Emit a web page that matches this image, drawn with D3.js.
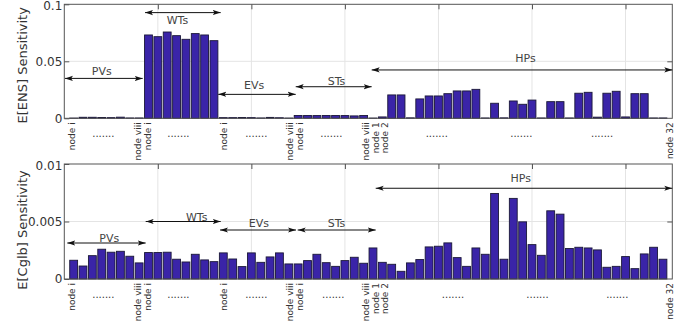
<!DOCTYPE html>
<html>
<head>
<meta charset="utf-8">
<script src="https://cdn.jsdelivr.net/npm/d3@7"></script>
<style>
  body { margin: 0; background: #fff; }
  svg { display: block; font-family: 'DejaVu Sans', sans-serif; }
</style>
</head>
<body>
<svg id="chart" width="694" height="329"></svg>
<script>
// --- data -------------------------------------------------------------
// 64 nodes: 8 PVs, 8 WTs, 8 EVs, 8 STs, 32 HPs
const ensPV = [0.0002, 0.0009, 0.0009, 0.0007, 0.0006, 0.0010, 0.0003, 0.0003];
const ensWT = [0.0731, 0.0716, 0.0757, 0.0725, 0.0693, 0.0743, 0.0731, 0.0681];
const ensEV = [0.0006, 0.0006, 0.0007, 0.0006, 0.0003, 0.0008, 0.0005, 0.0002];
const ensST = [0.0025, 0.0025, 0.0024, 0.0025, 0.0025, 0.0024, 0.0021, 0.0025];
const ensHP = [0.0002, 0.0012, 0.0205, 0.0205, 0.0004, 0.0170, 0.0196, 0.0196,
               0.0216, 0.0240, 0.0240, 0.0254, 0.0003, 0.0132, 0.0004, 0.0152,
               0.0123, 0.0160, 0.0003, 0.0146, 0.0146, 0.0003, 0.0220, 0.0228,
               0.0010, 0.0220, 0.0237, 0.0012, 0.0216, 0.0216, 0.0003, 0.0003];

const cglbPV = [0.00163, 0.00113, 0.00203, 0.00259, 0.00233, 0.00241, 0.00198, 0.00140];
const cglbWT = [0.00230, 0.00230, 0.00233, 0.00172, 0.00148, 0.00215, 0.00166, 0.00151];
const cglbEV = [0.00227, 0.00174, 0.00108, 0.00227, 0.00145, 0.00192, 0.00227, 0.00131];
const cglbST = [0.00131, 0.00160, 0.00215, 0.00142, 0.00110, 0.00160, 0.00189, 0.00137];
const cglbHP = [0.00270, 0.00145, 0.00128, 0.00067, 0.00140, 0.00169, 0.00279, 0.00285,
                0.00314, 0.00186, 0.00110, 0.00270, 0.00215, 0.00744, 0.00172, 0.00701,
                0.00497, 0.00299, 0.00206, 0.00593, 0.00564, 0.00265, 0.00276, 0.00270,
                0.00253, 0.00102, 0.00110, 0.00195, 0.00090, 0.00218, 0.00276, 0.00172];

const nodeTicks = [1, 8, 9, 17, 24, 25, 32, 33, 34, 64];
const nodeTickLabels = ['node i', 'node viii', 'node i', 'node i', 'node viii',
                        'node i', 'node viii', 'node 1', 'node 2', 'node 32'];
const ensDots = [4.4, 12.3, 20.5, 28.4, 39.5, 48.4, 56.9];
const cglbDots = [4.4, 12.3, 20.5, 28.6, 41.2, 50.1, 58.5];

// group arrows: [label, from, to, arrow y, label x, label y] (data units)
const ensArrows = [
  ['PVs', 0.07, 8.38, 0.035, 4.0, 0.0409],
  ['WTs', 8.63, 16.72, 0.0927, 12.1, 0.0856],
  ['EVs', 16.46, 24.74, 0.021, 20.3, 0.0286],
  ['STs', 24.74, 32.86, 0.0277, 29.1, 0.0327],
  ['HPs', 32.86, 65, 0.0424, 49.3, 0.0523]
];
const cglbArrows = [
  ['PVs', 0.32, 8.7, 0.00313, 4.8, 0.0035],
  ['WTs', 8.7, 16.72, 0.005, 14.15, 0.00535],
  ['EVs', 16.65, 24.77, 0.00426, 20.8, 0.0048],
  ['STs', 24.95, 33.29, 0.00426, 29.1, 0.00484],
  ['HPs', 33.29, 65, 0.00789, 48.8, 0.00871]
];

// --- layout -------------------------------------------------------------
const left = 64.3, right = 672.3;
const panels = [
  { values: [...ensPV, ...ensWT, ...ensEV, ...ensST, ...ensHP], yMax: 0.1, yTicks: [0, 0.05, 0.1],
    top: 4.3, bottom: 118.3, title: 'E[ENS] Sensitivity', titleShift: 4, arrows: ensArrows, dots: ensDots },
  { values: [...cglbPV, ...cglbWT, ...cglbEV, ...cglbST, ...cglbHP], yMax: 0.01, yTicks: [0, 0.005, 0.01],
    top: 164, bottom: 279, title: 'E[Cglb] Sensitivity', titleShift: 8.5, arrows: cglbArrows, dots: cglbDots }
];

const svg = d3.select('#chart');

const defs = svg.append('defs');
defs.append('marker')
  .attr('id', 'head')
  .attr('markerUnits', 'userSpaceOnUse')
  .attr('viewBox', '0 -3 8 6')
  .attr('refX', 8).attr('refY', 0)
  .attr('markerWidth', 8).attr('markerHeight', 6)
  .attr('orient', 'auto-start-reverse')
  .append('path')
  .attr('d', 'M0,-2.6L8,0L0,2.6L1.8,0Z')
  .attr('fill', '#111');

const x = d3.scaleLinear().domain([0, 65]).range([left, right]);
// tick labels sit on a slightly different scale (separate label axis)
const xl = d3.scaleLinear().domain([0.5, 64.5]).range([left + 2, right + 2]);

panels.forEach(p => {
  const y = d3.scaleLinear().domain([0, p.yMax]).range([p.bottom, p.top]);
  const g = svg.append('g');

  // grid
  g.append('g').selectAll('line.vg')
    .data(d3.range(10, 65, 10))
    .enter().append('line')
    .attr('x1', d => x(d)).attr('x2', d => x(d))
    .attr('y1', p.top).attr('y2', p.bottom)
    .attr('stroke', '#e4e4e4').attr('stroke-width', 1);
  g.append('g').selectAll('line.hg')
    .data(p.yTicks.slice(1, -1))
    .enter().append('line')
    .attr('x1', left).attr('x2', right)
    .attr('y1', d => y(d)).attr('y2', d => y(d))
    .attr('stroke', '#e4e4e4').attr('stroke-width', 1);

  // bars
  const bw = (x(1) - x(0)) * 0.84;
  g.append('g').selectAll('rect')
    .data(p.values)
    .enter().append('rect')
    .attr('x', (d, i) => x(i + 1) - bw / 2)
    .attr('y', d => y(d))
    .attr('width', bw)
    .attr('height', d => p.bottom - y(d))
    .attr('fill', '#3a24a8')
    .attr('stroke', '#1b1838')
    .attr('stroke-width', 0.9);

  // axes (ticks inward)
  const yAxis = g.append('g')
    .attr('transform', `translate(${left},0)`)
    .call(d3.axisLeft(y).tickValues(p.yTicks).tickFormat(d => String(d))
      .tickSizeInner(-5).tickSizeOuter(0).tickPadding(2));
  yAxis.select('.domain').remove();
  yAxis.selectAll('line').attr('stroke', '#555');
  yAxis.selectAll('text')
    .attr('fill', '#333')
    .attr('dy', d => d === p.yMax ? '0.45em' : '0.32em')
    .style('font-family', "'DejaVu Sans', sans-serif")
    .style('font-size', '12px');

  const rAxis = g.append('g')
    .attr('transform', `translate(${right},0)`)
    .call(d3.axisRight(y).tickValues(p.yTicks.slice(1, -1)).tickFormat('')
      .tickSizeInner(-5).tickSizeOuter(0));
  rAxis.select('.domain').remove();
  rAxis.selectAll('line').attr('stroke', '#555');

  const tAxis = g.append('g')
    .attr('transform', `translate(0,${p.top})`)
    .call(d3.axisTop(x).tickValues(d3.range(10, 65, 10)).tickFormat('')
      .tickSizeInner(-5).tickSizeOuter(0));
  tAxis.select('.domain').remove();
  tAxis.selectAll('line').attr('stroke', '#555');

  // node labels on the bottom
  const bAxis = g.append('g')
    .attr('transform', `translate(0,${p.bottom})`)
    .call(d3.axisBottom(xl).tickValues(nodeTicks)
      .tickFormat((d, i) => nodeTickLabels[i]).tickSize(0).tickPadding(0));
  bAxis.select('.domain').remove();
  bAxis.selectAll('text')
    .attr('transform', 'rotate(-90)')
    .attr('x', -4).attr('y', 0).attr('dy', '0.35em')
    .attr('text-anchor', 'end')
    .attr('fill', '#333')
    .style('font-family', "'DejaVu Sans', sans-serif")
    .style('font-size', '9px');

  g.append('g').selectAll('text.dots')
    .data(p.dots)
    .enter().append('text')
    .attr('x', d => xl(d))
    .attr('y', p.bottom + 19)
    .attr('text-anchor', 'middle')
    .attr('fill', '#333')
    .style('font-size', '10px')
    .text('.......');

  // frame
  g.append('rect')
    .attr('x', left).attr('y', p.top)
    .attr('width', right - left).attr('height', p.bottom - p.top)
    .attr('fill', 'none').attr('stroke', '#555').attr('stroke-width', 1);

  // group arrows
  p.arrows.forEach(a => {
    g.append('line')
      .attr('x1', x(a[1])).attr('x2', x(a[2]))
      .attr('y1', y(a[3])).attr('y2', y(a[3]))
      .attr('stroke', '#111').attr('stroke-width', 1)
      .attr('marker-start', 'url(#head)')
      .attr('marker-end', 'url(#head)');
    g.append('text')
      .attr('x', x(a[4])).attr('y', y(a[5]))
      .attr('text-anchor', 'middle')
      .attr('dominant-baseline', 'central')
      .attr('fill', '#444')
      .style('font-size', '11px')
      .text(a[0]);
  });

  // y title
  g.append('text')
    .attr('transform', `translate(22,${(p.top + p.bottom) / 2 + p.titleShift}) rotate(-90)`)
    .attr('text-anchor', 'middle')
    .attr('dominant-baseline', 'central')
    .attr('fill', '#333')
    .style('font-size', '13px')
    .text(p.title);
});
</script>
</body>
</html>
